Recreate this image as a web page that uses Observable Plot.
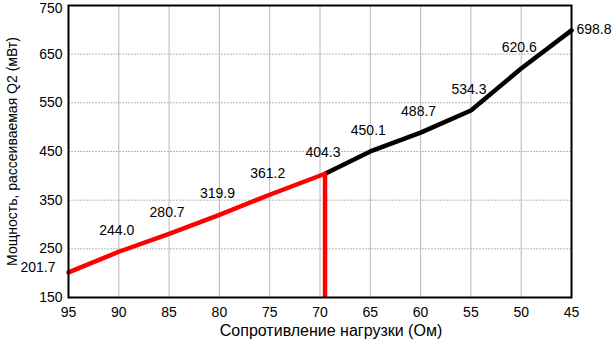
<!DOCTYPE html>
<html>
<head>
<meta charset="utf-8">
<script src="https://cdn.jsdelivr.net/npm/d3@7"></script>
<script src="https://cdn.jsdelivr.net/npm/@observablehq/plot@0.6"></script>
<style>
  html, body { margin: 0; padding: 0; background: #fff; }
  #chart svg { display: block; overflow: visible; }
</style>
</head>
<body>
<div id="chart"></div>
<script>
// Load resistance (Ohm), reversed axis
const resistance = [95, 90, 85, 80, 75, 69.5, 65, 60, 55, 50, 45];
// Power dissipated in Q2 (mW)
const power = [201.7, 244.0, 280.7, 319.9, 361.2, 404.3, 450.1, 488.7, 534.3, 620.6, 698.8];
const thresholdIndex = 5; // where the red segment ends
const xTicks = [95, 90, 85, 80, 75, 70, 65, 60, 55, 50, 45];
const yTicks = [150, 250, 350, 450, 550, 650, 750];
const xTitle = "Сопротивление нагрузки (Ом)";
const yTitle = "Мощность, рассеиваемая Q2 (мВт)";

const rows = resistance.map((r, i) => ({r, p: power[i], i}));
const redRows = rows.filter(d => d.i <= thresholdIndex);
const blackRows = rows.filter(d => d.i >= thresholdIndex);
const midLabels = rows.filter(d => d.i > 0 && d.i < rows.length - 1);
const firstRow = [rows[0]];
const lastRow = [rows[rows.length - 1]];
const thr = rows[thresholdIndex];
const yTicksInner = yTicks.slice(0, -1);
const yTickTop = yTicks.slice(-1);

const font = "'Liberation Sans', Arial, Helvetica, sans-serif";

const chart = Plot.plot({
  width: 612,
  height: 343,
  marginLeft: 68,
  marginRight: 41,
  marginTop: 5,
  marginBottom: 46,
  style: {fontFamily: font, fontSize: "14px", color: "#000", background: "#fff", overflow: "visible"},
  x: {domain: [95, 45], ticks: xTicks},
  y: {domain: [150, 750], ticks: yTicks},
  marks: [
    Plot.gridX(xTicks, {stroke: "#bdb5b5", strokeOpacity: 1, strokeWidth: 1}),
    Plot.gridY(yTicks, {stroke: "#bdb5b5", strokeOpacity: 1, strokeWidth: 1, strokeDasharray: "2,1"}),
    Plot.axisX(xTicks, {tickSize: 0, tickPadding: 10, fontSize: 14, label: null, tickFormat: d => String(d)}),
    Plot.axisY(yTicksInner, {tickSize: 0, tickPadding: 6, fontSize: 14, label: null, tickFormat: d => String(d)}),
    Plot.axisY(yTickTop, {tickSize: 0, tickPadding: 6, dy: 3, fontSize: 14, label: null, tickFormat: d => String(d)}),
    Plot.ruleX([thr], {x: "r", y1: 150, y2: "p", stroke: "#ff0000", strokeWidth: 4.5}),
    Plot.line(blackRows, {x: "r", y: "p", stroke: "#000", strokeWidth: 4.5, strokeLinejoin: "miter"}),
    Plot.line(redRows, {x: "r", y: "p", stroke: "#ff0000", strokeWidth: 4.5}),
    Plot.frame({stroke: "#000", strokeWidth: 2}),
    Plot.text(midLabels, {x: "r", y: "p", text: d => d.p.toFixed(1), dx: -2, dy: -21, fontSize: 14, fill: "#000"}),
    Plot.text(firstRow, {x: "r", y: "p", text: d => d.p.toFixed(1), dx: -13, dy: -5, textAnchor: "end", fontSize: 14, fill: "#000"}),
    Plot.text(lastRow, {x: "r", y: "p", text: d => d.p.toFixed(1), dx: 5, dy: -1, textAnchor: "start", fontSize: 14, fill: "#000"}),
    Plot.text([xTitle], {frameAnchor: "bottom", dy: 38, dx: 11, text: d => d, textAnchor: "middle", fontSize: 16, fill: "#000"}),
    Plot.text([yTitle], {frameAnchor: "left", dx: -56, rotate: -90, text: d => d, textAnchor: "middle", fontSize: 14, fill: "#000"})
  ]
});
document.getElementById("chart").appendChild(chart);
</script>
</body>
</html>
